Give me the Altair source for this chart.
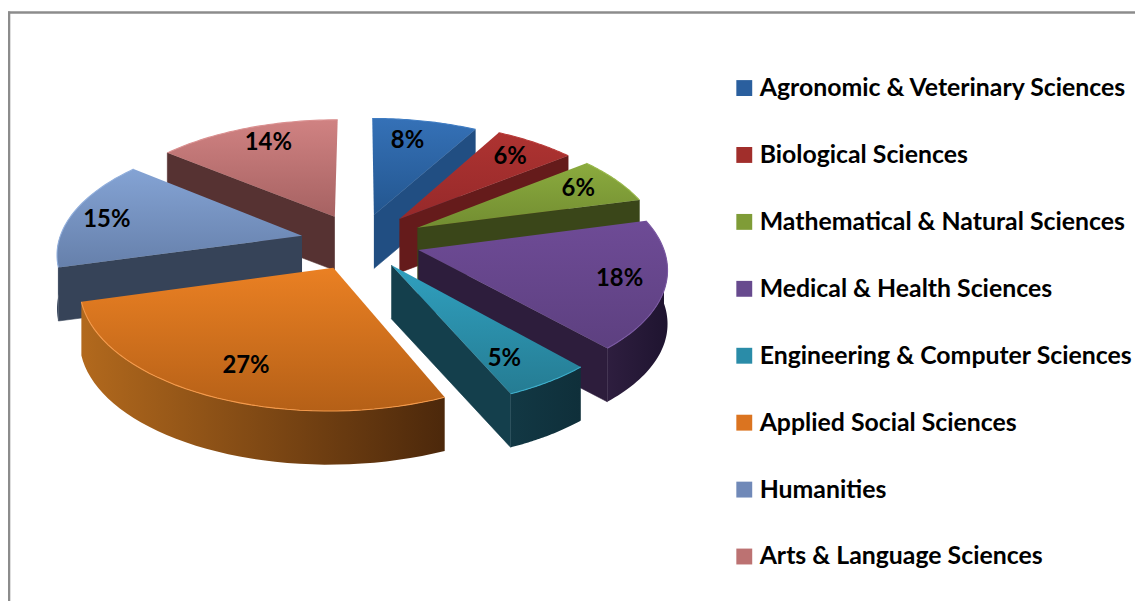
import math
import altair as alt
import pandas as pd

categories = ["Agronomic & Veterinary Sciences", "Biological Sciences", "Mathematical & Natural Sciences",
              "Medical & Health Sciences", "Engineering & Computer Sciences", "Applied Social Sciences",
              "Humanities", "Arts & Language Sciences"]
shares = [8, 6.2, 6.5, 17.3, 5, 27, 15, 14]
labels = ["8%", "6%", "6%", "18%", "5%", "27%", "15%", "14%"]
explosion = [0.243, 0.26, 0.27, 0.25, 0.235, 0.243, 0.243, 0.243]
label_radius = [0.76, 0.8, 0.8, 0.82, 0.8, 0.78, 0.84, 0.8]
label_turn = [-2.2, 0, 0, 0, 3, -2.6, -2, 2]
legend_colors = ["#2A5F9E", "#A12E2B", "#7F9C37", "#674A8E", "#2A8CA8", "#DB7420", "#7089B8", "#BC7272"]
top_hi = ["#3571B7", "#AE3331", "#8BAB3E", "#6E4B96", "#30A0BF", "#EA8023", "#84A3D4", "#D08282"]
top_lo = ["#23568F", "#96292A", "#728D31", "#5D4080", "#257C93", "#B56017", "#6680AB", "#A66262"]
edge = ["#3F7CC2", "#B83C3A", "#98B84A", "#7A58A2", "#3CAECB", "#F4994A", "#92AFDC", "#DA9090"]
cut_col = ["#214E82", "#651B1B", "#3A4619", "#2D1D3C", "#143F4C", "#4C280B", "#364358", "#563232"]
side_lo = ["#214E82", "#651B1B", "#3A4619", "#2E1E3F", "#123844", "#B2691D", "#3A485F", "#563232"]
side_hi = ["#214E82", "#651B1B", "#3A4619", "#1F1430", "#0F2F3A", "#4C280B", "#364358", "#563232"]

W, H = 1135, 595
CX, CY, RX, RY, K, DEPTH = 362, 241, 245, 117, 0.135, 54

total = sum(shares)
starts, ends, acc = [], [], 0
for s in shares:
    starts.append(acc / total * 2 * math.pi)
    acc += s
    ends.append(acc / total * 2 * math.pi)
mids = [(a + b) / 2 for a, b in zip(starts, ends)]


def project(i, t, a, z=0.0):
    X = explosion[i] * math.sin(mids[i]) + t * math.sin(a)
    Y = explosion[i] * math.cos(mids[i]) + t * math.cos(a)
    w = 1 + K * Y
    return CX + RX * X / w, CY - RY * Y / w + z * DEPTH


def arc_angles(a, b, n=40):
    return [a + (b - a) * j / n for j in range(n + 1)]


xenc = alt.X("x:Q", axis=None, scale=alt.Scale(domain=[8, 8 + W], nice=False, zero=False))
yenc = alt.Y("y:Q", axis=None, scale=alt.Scale(domain=[8 + H, 8], nice=False, zero=False))


def grad(c0, c1, horizontal=False):
    return alt.LinearGradient(gradient="linear", x1=0, y1=0, x2=1 if horizontal else 0, y2=0 if horizontal else 1,
                              stops=[alt.GradientStop(color=c0, offset=0), alt.GradientStop(color=c1, offset=1)])


def poly(points, fill, stroke):
    df = pd.DataFrame(points, columns=["x", "y"])
    df["i"] = range(len(df))
    return alt.Chart(df).mark_line(fill=fill, stroke=stroke, strokeWidth=0.6, interpolate="linear").encode(
        x=xenc, y=yenc, order=alt.Order("i:Q"))


def edge_line(points, color):
    df = pd.DataFrame(points, columns=["x", "y"])
    df["i"] = range(len(df))
    return alt.Chart(df).mark_line(stroke=color, strokeWidth=1.1, interpolate="linear").encode(
        x=xenc, y=yenc, order=alt.Order("i:Q"))


layers = []
order = sorted(range(len(shares)), key=lambda i: -math.cos(mids[i]))
for i in order:
    a0, a1 = starts[i], ends[i]
    for ang, vis in ((a0, math.sin(a0) < 0), (a1, math.sin(a1) > 0)):
        if vis:
            pts = [project(i, 0, 0), project(i, 1, ang), project(i, 1, ang, 1), project(i, 0, 0, 1)]
            layers.append(poly(pts, cut_col[i], cut_col[i]))
    b0, b1 = max(a0, math.pi / 2), min(a1, 3 * math.pi / 2)
    if b1 > b0:
        ang = arc_angles(b0, b1)
        pts = [project(i, 1, a) for a in ang] + [project(i, 1, a, 1) for a in reversed(ang)]
        layers.append(poly(pts, grad(side_lo[i], side_hi[i], True), None))
    arc = [project(i, 1, a) for a in arc_angles(a0, a1)]
    layers.append(poly([project(i, 0, 0)] + arc, grad(top_hi[i], top_lo[i]), None))
    layers.append(edge_line(arc, edge[i]))

anchors = [project(i, label_radius[i], mids[i] + math.radians(label_turn[i])) for i in range(8)]
lab = pd.DataFrame({"x": [p[0] for p in anchors], "y": [p[1] for p in anchors], "t": labels})
layers.append(alt.Chart(lab).mark_text(font="Lato", fontSize=24, fontWeight="bold", color="#000000").encode(
    x=xenc, y=yenc, text="t:N"))

frame_h = pd.DataFrame({"x": [8], "x2": [8 + W], "y": [10.5]})
frame_v = pd.DataFrame({"x": [9], "y": [9.5], "y2": [8 + H]})
layers.append(alt.Chart(frame_h).mark_rule(color="#8C8C8C", strokeWidth=2.6).encode(x=xenc, x2="x2:Q", y=yenc))
layers.append(alt.Chart(frame_v).mark_rule(color="#8C8C8C", strokeWidth=2.6).encode(x=xenc, y=yenc, y2="y2:Q"))

leg = pd.DataFrame({"cat": categories, "x": [400] * 8, "y": [250] * 8})
layers.append(alt.Chart(leg).mark_point(filled=True, size=0).encode(
    x=xenc, y=yenc,
    color=alt.Color("cat:N", sort=categories,
                    scale=alt.Scale(domain=categories, range=legend_colors),
                    legend=alt.Legend(title=None, orient="none", legendX=729, legendY=66, symbolType="square",
                                      symbolSize=256, symbolOpacity=1, symbolStrokeWidth=0, labelFont="Lato",
                                      labelFontSize=25, labelFontWeight="bold", labelColor="#000000", labelLimit=600,
                                      labelOffset=3, rowPadding=41.4, padding=0))))

chart = alt.layer(*layers).properties(width=W, height=H, padding=0, autosize="none").configure_view(stroke=None)
chart.save("out.html", embed_options={"renderer": "svg", "actions": False})
